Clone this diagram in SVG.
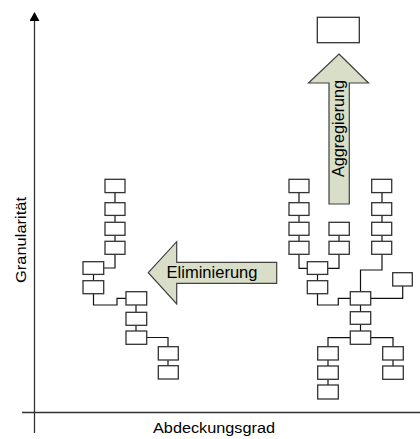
<svg xmlns="http://www.w3.org/2000/svg" width="420" height="439" viewBox="0 0 420 439">
<style>
.box{fill:#fff;stroke:#333;stroke-width:1.3}
.con{fill:none;stroke:#111;stroke-width:1.2}
.arr{fill:#d8dec7;stroke:#404040;stroke-width:1.2}
.lbl{font-family:"Liberation Sans",Arial,sans-serif;fill:#000}
.axis{stroke:#333;stroke-width:1.3;fill:none}
</style>
<defs>
<marker id="ah" markerWidth="10" markerHeight="10" refX="5" refY="9" orient="0" markerUnits="userSpaceOnUse" viewBox="0 0 10 10">
<path d="M0 9 L5 0 L10 9 Z" fill="#000"/>
</marker>
</defs>
<g id="axes">
<line class="axis" x1="34.5" y1="433" x2="34.5" y2="21" marker-end="url(#ah)"/>
<line class="axis" x1="22" y1="412.5" x2="420" y2="412.5"/>
<text class="lbl" font-size="15.5" transform="translate(25.5,240) rotate(-90)" text-anchor="middle" textLength="86" lengthAdjust="spacingAndGlyphs">Granularität</text>
<text class="lbl" font-size="15.5" x="214" y="432.7" text-anchor="middle" textLength="122" lengthAdjust="spacingAndGlyphs">Abdeckungsgrad</text>
</g>
<g id="arrow-aggregierung">
<path class="arr" d="M339 54 L368.5 83 L349.3 83 L349.3 204 L329 204 L329 83 L308.5 83 Z"/>
<text class="lbl" font-size="16" transform="translate(344,128.5) rotate(-90)" text-anchor="middle" textLength="97" lengthAdjust="spacingAndGlyphs">Aggregierung</text>
</g>
<g id="arrow-eliminierung">
<path class="arr" d="M148.3 272.7 L176.7 241.7 L176.7 262.3 L276.7 262.3 L276.7 283.3 L176.7 283.3 L176.7 304 Z"/>
<text class="lbl" font-size="16.5" x="212" y="278.3" text-anchor="middle" textLength="91" lengthAdjust="spacingAndGlyphs">Eliminierung</text>
</g>
<g id="connectors">
<path class="con" d="M115 192 V203 M115 216 V222 M115 235 V241 M115 254 V268 H104 M93.5 275 V281 M93.5 294 V305 H117 V298.3 H126 M136 305 V312 M136 325 V331 M146.5 337.5 H168 V347 M168 360 V366"/>
<path class="con" d="M299 192 V203 M299 216 V222 M299 235 V241 M339 235 V241 M382 192 V203 M382 216 V222 M382 235 V241 M299 254 V268.3 H307.3 M339 254 V268.3 H327.7 M317.5 274.5 V281 M317.5 294 V305 H338.3 V298.3 H350.3 M382 254 V270 H360.5 V292 M402.7 286 V298.3 H370.7 M360.5 305 V312 M360.5 324.5 V331 M350.3 337.7 H328 V347 M328 360 V366 M328 379.3 V385 M370.7 337.7 H393 V347 M393 360 V366"/>
</g>
<g id="node-top"><rect class="box" x="317.3" y="17.3" width="42" height="25.4"/></g>
<g id="left-tree">
<rect id="l1" class="box" x="105" y="179.3" width="20" height="13.3"/>
<rect id="l2" class="box" x="105" y="202.7" width="20" height="12.7"/>
<rect id="l3" class="box" x="105" y="222.3" width="20" height="13"/>
<rect id="l4" class="box" x="105" y="241.3" width="20" height="13"/>
<rect id="l5" class="box" x="83" y="261.7" width="20.7" height="12.7"/>
<rect id="l6" class="box" x="83" y="280.7" width="20.7" height="13"/>
<rect id="l7" class="box" x="126" y="291.7" width="20.7" height="13.3"/>
<rect id="l8" class="box" x="126" y="312.3" width="20.7" height="13"/>
<rect id="l9" class="box" x="126" y="331" width="20.7" height="13.3"/>
<rect id="l10" class="box" x="158.3" y="346.7" width="20" height="13.3"/>
<rect id="l11" class="box" x="158.3" y="365.7" width="20" height="13.3"/>
</g>
<g id="right-tree">
<rect id="a1" class="box" x="289" y="179.3" width="20" height="13.3"/>
<rect id="a2" class="box" x="289" y="202.7" width="20" height="12.7"/>
<rect id="a3" class="box" x="289" y="222.3" width="20" height="13"/>
<rect id="a4" class="box" x="289" y="241.3" width="20" height="13"/>
<rect id="b1" class="box" x="329" y="222.3" width="20.3" height="13"/>
<rect id="b2" class="box" x="329" y="241.3" width="20.3" height="13"/>
<rect id="c1" class="box" x="371.7" y="179.3" width="20" height="13.3"/>
<rect id="c2" class="box" x="371.7" y="202.7" width="20" height="12.7"/>
<rect id="c3" class="box" x="371.7" y="222.3" width="20" height="13"/>
<rect id="c4" class="box" x="371.7" y="241.3" width="20" height="13"/>
<rect id="m1" class="box" x="307.3" y="261.7" width="20.4" height="12.7"/>
<rect id="m2" class="box" x="307.3" y="280.7" width="20.4" height="13"/>
<rect id="r1" class="box" x="392.7" y="272.7" width="19.6" height="13.3"/>
<rect id="h1" class="box" x="350.3" y="291.7" width="20.4" height="13.3"/>
<rect id="h2" class="box" x="350.3" y="311.7" width="20.4" height="12.6"/>
<rect id="h3" class="box" x="350.3" y="331" width="20.4" height="13.3"/>
<rect id="d1" class="box" x="317.7" y="346.7" width="20.6" height="13.3"/>
<rect id="d2" class="box" x="317.7" y="366" width="20.6" height="13.3"/>
<rect id="d3" class="box" x="317.7" y="385" width="20.6" height="14"/>
<rect id="e1" class="box" x="382.7" y="346.7" width="20.6" height="13.3"/>
<rect id="e2" class="box" x="382.7" y="366" width="20.6" height="13.3"/>
</g>
</svg>
